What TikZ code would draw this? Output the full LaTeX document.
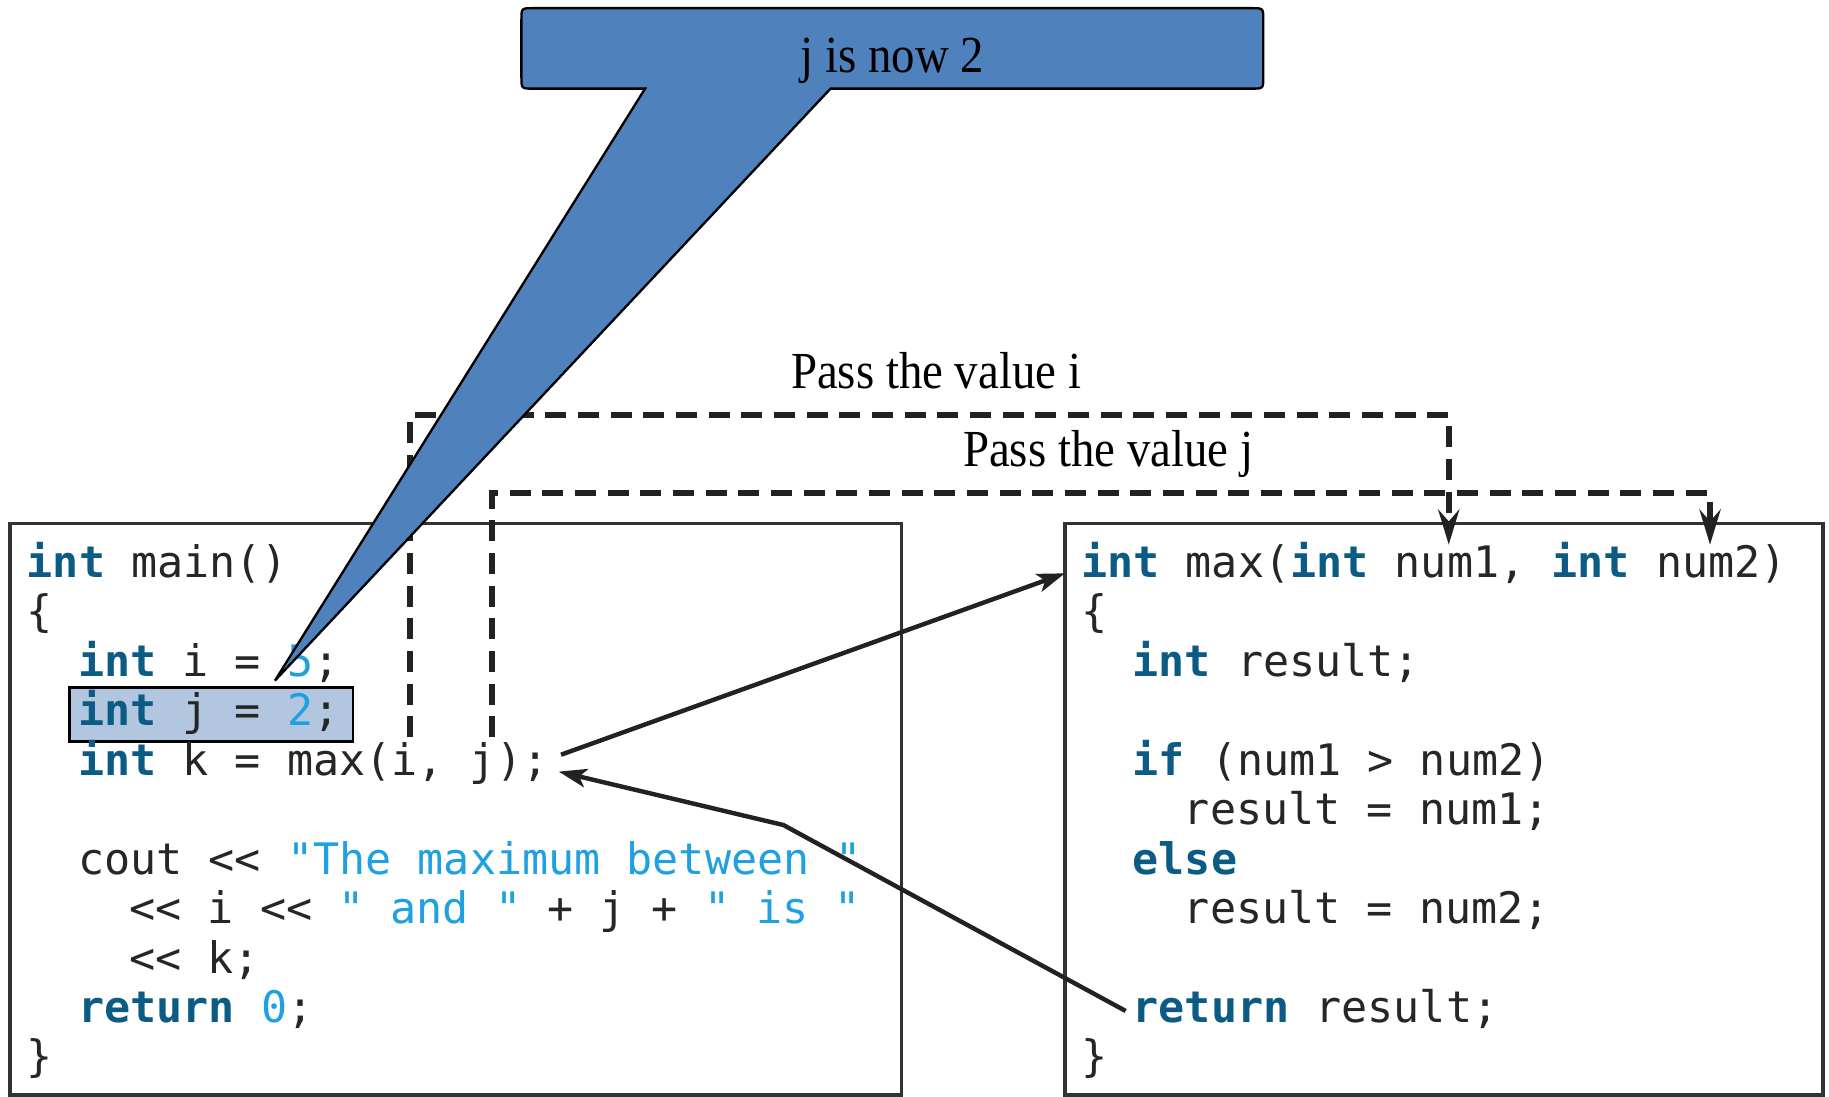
\documentclass[tikz,border=0pt]{standalone}
\usepackage{fontspec}
\setmainfont{Liberation Serif}
\setmonofont{DejaVu Sans Mono}
\newfontfamily\labelfont[FakeStretch=0.9]{Liberation Serif}
\usetikzlibrary{arrows.meta}

\definecolor{kwblue}{HTML}{0B5B84}
\definecolor{litblue}{HTML}{1FA0E0}
\definecolor{codetext}{HTML}{262626}
\definecolor{calloutblue}{HTML}{4F81BD}
\definecolor{hlblue}{HTML}{B3C6E0}
\definecolor{framegray}{HTML}{333333}
\definecolor{linedark}{HTML}{222222}

\newcommand\codekw[1]{\textcolor{kwblue}{\bfseries #1}}
\newcommand\codelit[1]{\textcolor{litblue}{#1}}

\tikzset{
  codeline/.style={anchor=base west, inner sep=0pt, outer sep=0pt, text=codetext,
    font=\ttfamily\fontsize{18.6pt}{22pt}\selectfont},
  labeltext/.style={anchor=base, inner sep=0pt, text=black,
    font=\labelfont\fontsize{22.3pt}{26pt}\selectfont},
  codeframe/.style={draw=framegray, line width=1.5pt, inner sep=0pt, outer sep=0pt,
    minimum height=244.85pt},
  passline/.style={draw=linedark, line width=2.6pt, dash pattern=on 9pt off 5pt,
    -{Stealth[length=15pt,width=9pt,inset=5pt]}},
  flowarrow/.style={draw=linedark, line width=1.9pt, line join=round,
    -{Stealth[length=12pt,width=8pt,inset=3pt]}},
  callout/.style={fill=calloutblue, draw=black, line width=1pt},
  highlight/.style={fill=hlblue, draw=black, line width=1.2pt},
}

\begin{document}
\begin{tikzpicture}[x=0.5pt,y=-0.5pt]
\path[fill=white, use as bounding box] (0,0) rectangle (1568,940);

% highlighted statement in main
\path[highlight] (59.4,589.5) rectangle (302.7,635.8);

% ---- main() ----
\node[codeline] (l0)  at (23,495)   {\codekw{int} main()};
\node[codeline] (l1)  at (23,537.4) {\{};
\node[codeline] (l2)  at (67,579.8) {\codekw{int} i = \codelit{5};};
\node[codeline] (l3)  at (67,622.2) {\codekw{int} j = \codelit{2};};
\node[codeline] (l4)  at (67,664.6) {\codekw{int} k = max(i, j);};
\node[codeline] (l6)  at (67,749.4) {cout << \codelit{"The maximum between "}};
\node[codeline] (l7)  at (111,791.8) {<< i << \codelit{" and "} + j + \codelit{" is "}};
\node[codeline] (l8)  at (111,834.2) {<< k;};
\node[codeline] (l9)  at (67,876.6) {\codekw{return} \codelit{0};};
\node[codeline] (l10) at (23,919)   {\}};

% ---- max() ----
\node[codeline] (r0)  at (927,495)   {\codekw{int} max(\codekw{int} num1, \codekw{int} num2)};
\node[codeline] (r1)  at (927,537.4) {\{};
\node[codeline] (r2)  at (971,579.8) {\codekw{int} result;};
\node[codeline] (r4)  at (971,664.6) {\codekw{if} (num1 > num2)};
\node[codeline] (r5)  at (1015,706.9) {result = num1;};
\node[codeline] (r6)  at (971,749.4) {\codekw{else}};
\node[codeline] (r7)  at (1015,791.8) {result = num2;};
\node[codeline] (r9)  at (971,876.6) {\codekw{return} result;};
\node[codeline] (r10) at (927,919)   {\}};

% frames
\node[codeframe, minimum width=382.2pt] (mainbox) at (390.8,693.85) {};
\node[codeframe, minimum width=325pt]   (maxbox)  at (1238,693.85) {};

% labels for the passed values
\node[labeltext] (passi) at (802.5,333) {Pass the value i};
\node[labeltext] (passj) at (950,400)   {Pass the value j};

% end points of the connectors
\coordinate (argi)    at (351.5,632);
\coordinate (argj)    at (422,632);
\coordinate (numone)  at (1242,467);
\coordinate (numtwo)  at (1466,467);
\coordinate (callout) at (481,647);
\coordinate (callin)  at (913,491.5);
\coordinate (retout)  at (965,866.7);
\coordinate (retbend) at (671.6,707.3);
\coordinate (retin)   at (479,661.5);

% value passing
\draw[passline] (argi) -- ++(0,-276) -| (numone);
\draw[passline] (argj) -- ++(0,-209) -| (numtwo);

% call and return
\draw[flowarrow] (callout) -- (callin);
\draw[flowarrow] (retout) -- (retbend) -- (retin);

% callout balloon
\coordinate (tip) at (235.7,583.5);
\filldraw[callout] (447,17) -- (447,66) .. controls (447,76) .. (457,76)
  -- (553,76) -- (tip) -- (712,76) -- (1073,76)
  .. controls (1083,76) .. (1083,66) -- (1083,17)
  .. controls (1083,7) .. (1073,7) -- (457,7)
  .. controls (447,7) .. (447,17) -- cycle;
\node[labeltext] (note) at (765,62) {j is now 2};
\end{tikzpicture}
\end{document}
